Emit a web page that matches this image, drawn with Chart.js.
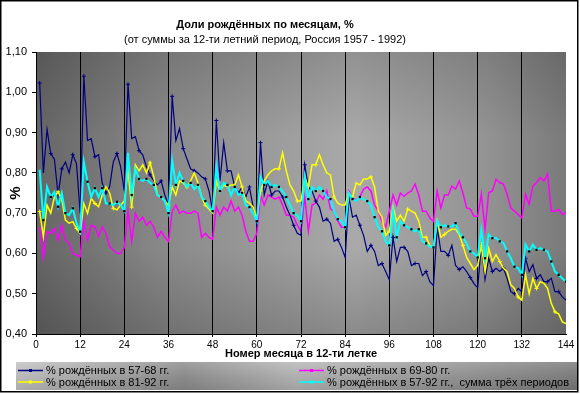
<!DOCTYPE html>
<html>
<head>
<meta charset="utf-8">
<script src="https://cdn.jsdelivr.net/npm/chart.js@4/dist/chart.umd.min.js"></script>
<style>
  html, body { margin: 0; padding: 0; background: #fff; }
  canvas { display: block; }
</style>
</head>
<body>
<canvas id="birthChart" width="580" height="394"></canvas>
<script>
// ===============================
// Data
// ===============================

const months = [];
for (let m = 1; m <= 144; m++) months.push(m);

const xTicks = [0, 12, 24, 36, 48, 60, 72, 84, 96, 108, 120, 132, 144];

const seriesLabels = [
  "% рождённых в 57-68 гг.",
  "% рождённых в 69-80 гг.",
  "% рождённых в 81-92 гг.",
  "% рождённых в 57-92 гг.,  сумма трёх периодов",
];

const births5768 = [
  1.023, 0.80, 0.908, 0.848, 0.834, 0.745, 0.81, 0.827, 0.80, 0.845, 0.823, 0.70,
  1.04, 0.88, 0.885, 0.84, 0.845, 0.774, 0.75, 0.765, 0.827, 0.848, 0.815, 0.755,
  1.02, 0.885, 0.89, 0.855, 0.845, 0.815, 0.795, 0.78, 0.77, 0.78, 0.745, 0.72,
  0.99, 0.88, 0.91, 0.86, 0.835, 0.81, 0.805, 0.80, 0.79, 0.785, 0.755, 0.705,
  0.93, 0.78, 0.875, 0.805, 0.805, 0.765, 0.75, 0.765, 0.74, 0.765, 0.715, 0.675,
  0.875, 0.745, 0.78, 0.745, 0.755, 0.755, 0.74, 0.715, 0.695, 0.67, 0.65, 0.645,
  0.82, 0.765, 0.755, 0.73, 0.715, 0.68, 0.685, 0.675, 0.63, 0.635, 0.615, 0.59,
  0.74, 0.69, 0.695, 0.67, 0.645, 0.605, 0.62, 0.605, 0.57, 0.575, 0.555, 0.535,
  0.64, 0.58, 0.615, 0.615, 0.605, 0.57, 0.575, 0.575, 0.545, 0.555, 0.53, 0.52,
  0.665, 0.605, 0.605, 0.595, 0.62, 0.57, 0.56, 0.567, 0.555, 0.54, 0.525, 0.515,
  0.62, 0.535, 0.588, 0.555, 0.563, 0.555, 0.563, 0.538, 0.505, 0.50, 0.513, 0.505,
  0.588, 0.555, 0.572, 0.538, 0.547, 0.53, 0.53, 0.538, 0.505, 0.505, 0.492, 0.484,
];

const births6980 = [
  0.666, 0.59, 0.654, 0.65, 0.662, 0.633, 0.67, 0.633, 0.625, 0.60, 0.596, 0.592,
  0.683, 0.633, 0.67, 0.666, 0.642, 0.666, 0.65, 0.617, 0.608, 0.60, 0.60, 0.615,
  0.705, 0.63, 0.70, 0.68, 0.69, 0.67, 0.68, 0.665, 0.64, 0.655, 0.64, 0.63,
  0.705, 0.72, 0.70, 0.705, 0.70, 0.70, 0.705, 0.70, 0.64, 0.65, 0.64, 0.635,
  0.715, 0.695, 0.715, 0.705, 0.73, 0.705, 0.715, 0.695, 0.655, 0.63, 0.63, 0.65,
  0.745, 0.72, 0.745, 0.74, 0.735, 0.74, 0.72, 0.695, 0.695, 0.69, 0.67, 0.655,
  0.74, 0.655, 0.72, 0.725, 0.745, 0.735, 0.755, 0.71, 0.705, 0.68, 0.665, 0.665,
  0.755, 0.74, 0.73, 0.74, 0.76, 0.765, 0.755, 0.72, 0.705, 0.68, 0.665, 0.705,
  0.745, 0.72, 0.75, 0.742, 0.75, 0.755, 0.772, 0.745, 0.705, 0.705, 0.688, 0.68,
  0.755, 0.713, 0.745, 0.745, 0.767, 0.76, 0.78, 0.75, 0.713, 0.71, 0.692, 0.692,
  0.747, 0.659, 0.751, 0.755, 0.784, 0.776, 0.772, 0.747, 0.713, 0.705, 0.697, 0.688,
  0.747, 0.722, 0.767, 0.776, 0.788, 0.78, 0.797, 0.705, 0.705, 0.709, 0.697, 0.701,
];

const births8192 = [
  0.704, 0.642, 0.72, 0.70, 0.74, 0.753, 0.733, 0.683, 0.675, 0.679, 0.662, 0.65,
  0.724, 0.70, 0.737, 0.724, 0.716, 0.745, 0.766, 0.75, 0.712, 0.708, 0.72, 0.73,
  0.805, 0.715, 0.82, 0.805, 0.82, 0.80, 0.825, 0.79, 0.745, 0.74, 0.73, 0.72,
  0.765, 0.745, 0.78, 0.775, 0.765, 0.78, 0.80, 0.775, 0.74, 0.72, 0.71, 0.70,
  0.78, 0.755, 0.77, 0.765, 0.77, 0.77, 0.795, 0.765, 0.73, 0.725, 0.715, 0.685,
  0.755, 0.78, 0.795, 0.805, 0.81, 0.81, 0.85, 0.805, 0.77, 0.755, 0.73, 0.73,
  0.79, 0.765, 0.82, 0.82, 0.845, 0.82, 0.80, 0.795, 0.74, 0.725, 0.72, 0.72,
  0.75, 0.74, 0.775, 0.77, 0.785, 0.785, 0.79, 0.765, 0.705, 0.69, 0.645, 0.655,
  0.715, 0.68, 0.695, 0.68, 0.71, 0.705, 0.70, 0.68, 0.64, 0.64, 0.62, 0.615,
  0.68, 0.64, 0.647, 0.655, 0.66, 0.66, 0.647, 0.62, 0.59, 0.575, 0.56, 0.57,
  0.62, 0.555, 0.613, 0.58, 0.597, 0.58, 0.563, 0.555, 0.522, 0.513, 0.492, 0.484,
  0.547, 0.50, 0.538, 0.513, 0.53, 0.526, 0.513, 0.476, 0.455, 0.45, 0.43, 0.426,
];

const births5792 = [
  0.808, 0.683, 0.765, 0.74, 0.753, 0.716, 0.75, 0.70, 0.695, 0.712, 0.675, 0.654,
  0.827, 0.778, 0.74, 0.762, 0.74, 0.762, 0.724, 0.724, 0.72, 0.728, 0.72, 0.705,
  0.85, 0.745, 0.81, 0.785, 0.78, 0.785, 0.775, 0.77, 0.745, 0.74, 0.73, 0.70,
  0.83, 0.77, 0.80, 0.78, 0.765, 0.775, 0.76, 0.77, 0.74, 0.73, 0.715, 0.705,
  0.815, 0.755, 0.775, 0.77, 0.745, 0.765, 0.745, 0.75, 0.72, 0.715, 0.70, 0.68,
  0.79, 0.77, 0.78, 0.765, 0.77, 0.765, 0.755, 0.74, 0.72, 0.70, 0.695, 0.68,
  0.79, 0.735, 0.765, 0.755, 0.765, 0.755, 0.74, 0.735, 0.705, 0.685, 0.68, 0.665,
  0.75, 0.735, 0.73, 0.74, 0.735, 0.73, 0.72, 0.69, 0.665, 0.655, 0.63, 0.62,
  0.705, 0.64, 0.68, 0.67, 0.665, 0.66, 0.655, 0.66, 0.63, 0.625, 0.617, 0.615,
  0.68, 0.665, 0.67, 0.667, 0.667, 0.675, 0.65, 0.64, 0.625, 0.605, 0.60, 0.59,
  0.659, 0.588, 0.647, 0.638, 0.638, 0.63, 0.626, 0.605, 0.588, 0.567, 0.563, 0.547,
  0.622, 0.605, 0.622, 0.609, 0.613, 0.609, 0.605, 0.58, 0.555, 0.547, 0.538, 0.53,
];

const seriesColors = ["#000080", "#ff00ff", "#ffff00", "#00ffff"];

// ===============================
// Helpers / plugins
// ===============================

const FONT = "'Liberation Sans', Arial, sans-serif";

function toPoints(values) {
  return values.map((v, i) => ({ x: months[i], y: v }));
}

const backdrop = {
  id: "backdrop",
  beforeDraw(chart) {
    const { ctx, chartArea: a } = chart;
    ctx.save();
    ctx.fillStyle = "#ffffff";
    ctx.fillRect(0, 0, chart.width, chart.height);

    // gray plot area, lighter in the middle
    const gx = ctx.createLinearGradient(a.left, 0, a.right, 0);
    gx.addColorStop(0, "#666666");
    gx.addColorStop(0.25, "#8a8a8a");
    gx.addColorStop(0.6, "#a9a9a9");
    gx.addColorStop(0.85, "#939393");
    gx.addColorStop(1, "#7a7a7a");
    ctx.fillStyle = gx;
    ctx.fillRect(a.left, a.top, a.right - a.left, a.bottom - a.top);

    const gy = ctx.createLinearGradient(0, a.top, 0, a.bottom);
    gy.addColorStop(0, "rgba(0,0,0,0.14)");
    gy.addColorStop(0.3, "rgba(0,0,0,0)");
    gy.addColorStop(0.7, "rgba(0,0,0,0)");
    gy.addColorStop(1, "rgba(0,0,0,0.18)");
    ctx.fillStyle = gy;
    ctx.fillRect(a.left, a.top, a.right - a.left, a.bottom - a.top);

    // titles
    ctx.fillStyle = "#000";
    ctx.textAlign = "center";
    ctx.textBaseline = "middle";
    ctx.font = "bold 11px " + FONT;
    ctx.fillText("Доли рождённых по месяцам, %", 265, 25);
    ctx.font = "11px " + FONT;
    ctx.fillText("(от суммы за 12-ти летний период, Россия 1957 - 1992)", 265, 40);
    ctx.restore();
  },
  afterDraw(chart) {
    const ctx = chart.ctx;
    ctx.save();

    // legend box
    const x0 = 16, y0 = 362, w = 561, h = 28;
    const g = ctx.createLinearGradient(x0, 0, x0 + w, 0);
    g.addColorStop(0, "#c4c4c4");
    g.addColorStop(0.3, "#8e8e8e");
    g.addColorStop(0.5, "#b8b8b8");
    g.addColorStop(0.75, "#9a9a9a");
    g.addColorStop(1, "#7c7c7c");
    ctx.fillStyle = g;
    ctx.fillRect(x0, y0, w, h);
    const gv = ctx.createLinearGradient(0, y0, 0, y0 + h);
    gv.addColorStop(0, "rgba(255,255,255,0.15)");
    gv.addColorStop(1, "rgba(0,0,0,0.12)");
    ctx.fillStyle = gv;
    ctx.fillRect(x0, y0, w, h);

    const spots = [[18, 370.5], [299, 370.5], [18, 382], [299, 382]];
    ctx.font = "11px " + FONT;
    ctx.textAlign = "left";
    ctx.textBaseline = "middle";
    spots.forEach(([lx, ly], i) => {
      ctx.strokeStyle = seriesColors[i];
      ctx.lineWidth = 1.5;
      ctx.beginPath();
      ctx.moveTo(lx, ly);
      ctx.lineTo(lx + 25, ly);
      ctx.stroke();
      ctx.fillStyle = seriesColors[i];
      ctx.fillRect(lx + 11, ly - 1.5, 3, 3);
      ctx.fillStyle = "#000";
      ctx.fillText(seriesLabels[i], lx + 28, ly + 0.5);
    });

    // outer frame
    ctx.strokeStyle = "#000";
    ctx.lineWidth = 1.5;
    ctx.strokeRect(0.75, 0.75, 577, 391);
    ctx.restore();
  },
};

// ===============================
// Chart
// ===============================

const canvas = document.getElementById("birthChart");

new Chart(canvas, {
  type: "line",
  data: {
    datasets: [
      {
        label: seriesLabels[0],
        data: toPoints(births5768),
        borderColor: seriesColors[0],
        borderWidth: 1.2,
        pointStyle: "cross",
        pointRadius: (c) => (c.dataIndex % 3 === 0 ? 2 : 0),
        pointBorderColor: seriesColors[0],
        pointBorderWidth: 1,
        order: 2,
      },
      {
        label: seriesLabels[1],
        data: toPoints(births6980),
        borderColor: seriesColors[1],
        borderWidth: 1.5,
        pointRadius: 0,
        order: 3,
      },
      {
        label: seriesLabels[2],
        data: toPoints(births8192),
        borderColor: seriesColors[2],
        borderWidth: 1.5,
        pointStyle: "cross",
        pointRadius: (c) => (c.dataIndex % 5 === 0 ? 2 : 0),
        pointBorderColor: seriesColors[2],
        pointBorderWidth: 1,
        order: 1,
      },
      {
        label: seriesLabels[3],
        data: toPoints(births5792),
        borderColor: seriesColors[3],
        borderWidth: 2,
        pointStyle: "rect",
        pointRadius: (c) => (c.dataIndex % 2 === 1 ? 1.6 : 0),
        pointBackgroundColor: "#000",
        pointBorderColor: "#000",
        pointBorderWidth: 0,
        order: 0,
      },
    ],
  },
  options: {
    responsive: false,
    animation: false,
    devicePixelRatio: 1,
    layout: {
      padding: { left: 4, right: 14, top: 52, bottom: 32 },
    },
    plugins: {
      legend: { display: false },
      tooltip: { enabled: false },
    },
    scales: {
      x: {
        type: "linear",
        min: 0,
        max: 144,
        afterBuildTicks: (scale) => {
          scale.ticks = xTicks.map((v) => ({ value: v }));
        },
        afterFit: (scale) => {
          scale.height = 28;
        },
        ticks: {
          color: "#000",
          font: { family: FONT, size: 10 },
          padding: 2,
          maxRotation: 0,
          autoSkip: false,
        },
        grid: {
          color: (c) => (c.tick && c.tick.value === 144 ? "rgba(0,0,0,0)" : "#000"),
          lineWidth: 1,
          tickLength: 3,
        },
        border: { color: "#000", width: 1 },
        title: {
          display: true,
          text: "Номер месяца в 12-ти летке",
          color: "#000",
          font: { family: FONT, size: 11, weight: "bold" },
          padding: { top: 0, bottom: 1 },
        },
      },
      y: {
        min: 0.4,
        max: 1.1,
        afterFit: (scale) => {
          scale.width = 32;
        },
        ticks: {
          stepSize: 0.1,
          color: "#000",
          font: { family: FONT, size: 11 },
          padding: 5,
          callback: (v) => v.toFixed(2).replace(".", ","),
        },
        grid: {
          drawOnChartArea: false,
          color: "#000",
          tickLength: 4,
        },
        border: { color: "#000", width: 1 },
        title: {
          display: true,
          text: "%",
          color: "#000",
          font: { family: FONT, size: 15, weight: "bold" },
          padding: { top: 3, bottom: 0 },
        },
      },
    },
  },
  plugins: [backdrop],
});
</script>
</body>
</html>
